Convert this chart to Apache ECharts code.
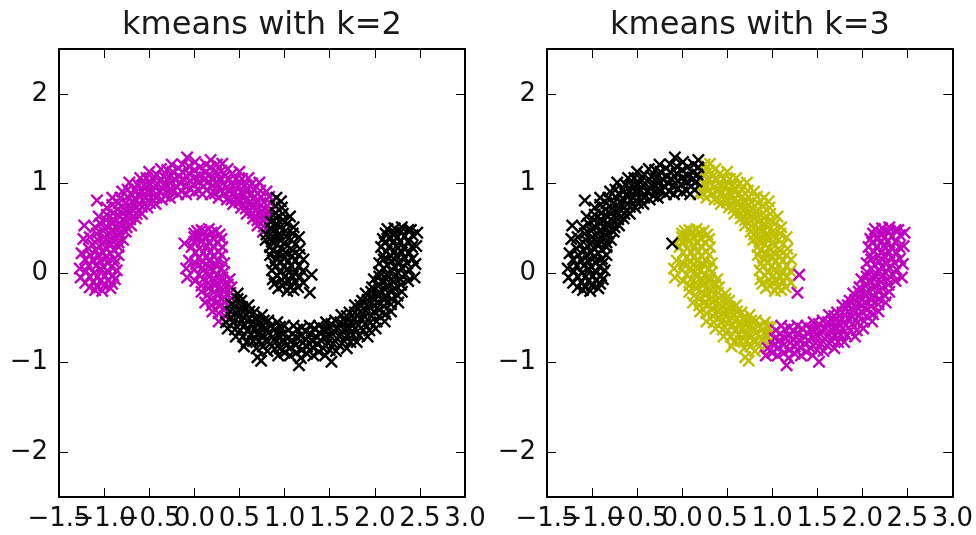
<!DOCTYPE html>
<html>
<head>
<meta charset="utf-8">
<script src="https://cdn.jsdelivr.net/npm/echarts@6.0.0/dist/echarts.min.js"></script>
<style>
  html, body { margin: 0; padding: 0; background: #ffffff; }
  #chart { width: 976px; height: 535px; }
</style>
</head>
<body>
<div id="chart"></div>
<script>
// Two-moons sample, split into arcs so each arc keeps one cluster colour per panel.

// Upper moon, left part (k=2: cluster m, k=3: cluster k)
const upperLeftArc = [
  [0.14,0.93],[0.16,1.02],[0.17,1.10],[0.18,1.18],
  [0.09,0.88],[0.10,0.97],[0.11,1.04],[0.12,1.12],[0.13,1.21],
  [0.05,0.92],[0.05,1.01],[0.06,1.09],[0.06,1.18],
  [0.00,0.90],[-0.01,0.99],[0.01,1.07],[0.00,1.15],[0.01,1.24],
  [-0.05,0.94],[-0.05,1.03],[-0.06,1.11],[-0.06,1.19],
  [-0.09,0.88],[-0.10,0.97],[-0.11,1.04],[-0.12,1.12],[-0.13,1.21],
  [-0.14,0.91],[-0.15,1.00],[-0.17,1.08],[-0.18,1.17],
  [-0.18,0.88],[-0.20,0.97],[-0.22,1.05],[-0.24,1.13],[-0.25,1.21],
  [-0.24,0.91],[-0.26,1.00],[-0.28,1.07],[-0.30,1.15],
  [-0.27,0.84],[-0.29,0.92],[-0.32,1.00],[-0.34,1.08],[-0.37,1.16],
  [-0.32,0.86],[-0.35,0.94],[-0.38,1.02],[-0.42,1.10],
  [-0.36,0.82],[-0.39,0.91],[-0.43,0.98],[-0.46,1.05],[-0.50,1.13],
  [-0.42,0.84],[-0.46,0.92],[-0.49,0.99],[-0.53,1.06],
  [-0.43,0.77],[-0.48,0.84],[-0.52,0.91],[-0.56,0.98],[-0.60,1.06],
  [-0.49,0.78],[-0.54,0.85],[-0.58,0.92],[-0.63,0.99],
  [-0.52,0.73],[-0.57,0.81],[-0.62,0.87],[-0.66,0.93],[-0.72,1.01],
  [-0.58,0.74],[-0.64,0.81],[-0.69,0.87],[-0.74,0.93],
  [-0.58,0.66],[-0.64,0.73],[-0.69,0.79],[-0.74,0.85],[-0.80,0.91],
  [-0.64,0.66],[-0.70,0.72],[-0.76,0.78],[-0.82,0.84],
  [-0.65,0.61],[-0.72,0.67],[-0.78,0.72],[-0.84,0.78],[-0.91,0.84],
  [-0.71,0.60],[-0.79,0.66],[-0.85,0.71],[-0.91,0.76],
  [-0.70,0.53],[-0.77,0.58],[-0.83,0.63],[-0.90,0.67],[-0.97,0.73],
  [-0.75,0.51],[-0.83,0.56],[-0.90,0.60],[-0.97,0.65],
  [-0.76,0.46],[-0.84,0.50],[-0.91,0.55],[-0.98,0.59],[-1.06,0.63],
  [-0.82,0.44],[-0.90,0.48],[-0.97,0.52],[-1.04,0.55],
  [-0.79,0.37],[-0.87,0.41],[-0.94,0.44],[-1.01,0.47],[-1.10,0.51],
  [-0.84,0.34],[-0.92,0.38],[-1.00,0.40],[-1.08,0.44],
  [-0.84,0.29],[-0.92,0.32],[-1.00,0.34],[-1.07,0.37],[-1.16,0.40],
  [-0.89,0.26],[-0.98,0.28],[-1.05,0.30],[-1.13,0.32],
  [-0.84,0.20],[-0.93,0.22],[-1.01,0.23],[-1.09,0.25],[-1.17,0.27],
  [-0.89,0.16],[-0.98,0.18],[-1.06,0.19],[-1.15,0.20],
  [-0.88,0.11],[-0.96,0.12],[-1.04,0.13],[-1.12,0.14],[-1.21,0.15],
  [-0.92,0.07],[-1.01,0.07],[-1.09,0.08],[-1.17,0.08],
  [-0.86,0.03],[-0.95,0.01],[-1.03,0.04],[-1.11,0.00],[-1.20,0.02],
  [-0.90,-0.03],[-0.99,-0.03],[-1.07,-0.04],[-1.16,-0.04],
  [-0.88,-0.07],[-0.96,-0.08],[-1.04,-0.09],[-1.12,-0.10],[-1.21,-0.11],
  [-0.91,-0.12],[-1.00,-0.14],[-1.08,-0.15],[-1.16,-0.16],
  [-0.93,-0.17],[-1.02,-0.20],[-1.10,-0.19],
  [-1.08,0.81],[-1.22,0.53],[-1.27,0.05],[-1.26,-0.05],[-1.25,0.22],[-1.23,0.38],
  [-0.08,1.29],[0.18,1.26]
];

// Upper moon, top-right part (k=2: m, k=3: y)
const upperMidArc = [
  [0.18,0.88],[0.20,0.97],[0.22,1.05],[0.24,1.13],[0.25,1.21],
  [0.23,0.89],[0.26,0.98],[0.28,1.05],[0.30,1.14],
  [0.27,0.84],[0.29,0.92],[0.32,1.00],[0.34,1.08],[0.37,1.16],
  [0.33,0.88],[0.36,0.96],[0.39,1.04],[0.42,1.11],
  [0.36,0.82],[0.39,0.91],[0.43,0.98],[0.46,1.05],[0.50,1.13],
  [0.41,0.82],[0.45,0.90],[0.49,0.97],[0.53,1.05],
  [0.43,0.77],[0.48,0.84],[0.52,0.91],[0.56,0.98],[0.60,1.06],
  [0.50,0.79],[0.55,0.87],[0.59,0.93],[0.64,1.00],
  [0.52,0.73],[0.57,0.81],[0.62,0.87],[0.66,0.93],[0.72,1.01],
  [0.57,0.72],[0.62,0.79],[0.67,0.85],[0.73,0.92],
  [0.58,0.66],[0.64,0.73],[0.69,0.79],[0.74,0.85],[0.80,0.91],
  [0.65,0.67],[0.71,0.73],[0.77,0.79],[0.83,0.85],
  [0.65,0.61],[0.72,0.67],[0.78,0.72],[0.84,0.78],
  [0.70,0.59],[0.77,0.64],[0.83,0.69],
  [0.70,0.53],[0.77,0.58],[0.83,0.63],
  [0.77,0.52],[0.76,0.46],[0.31,1.22]
];

// Upper moon, right end (k=2: k, k=3: y)
const upperRightArc = [
  [0.91,0.84],[0.96,0.80],[0.90,0.75],
  [0.90,0.67],[0.97,0.73],
  [0.85,0.57],[0.91,0.61],[0.98,0.66],
  [0.84,0.50],[0.91,0.55],[0.98,0.59],[1.06,0.63],
  [0.80,0.43],[0.88,0.47],[0.95,0.51],[1.03,0.55],
  [0.79,0.37],[0.87,0.41],[0.94,0.44],[1.01,0.47],[1.10,0.51],
  [0.86,0.35],[0.94,0.38],[1.02,0.41],[1.09,0.44],
  [0.84,0.29],[0.92,0.32],[1.00,0.34],[1.07,0.37],[1.16,0.40],
  [0.87,0.25],[0.96,0.28],[1.03,0.30],[1.12,0.32],
  [0.84,0.20],[0.93,0.22],[1.01,0.23],[1.09,0.25],[1.17,0.27],
  [0.91,0.16],[1.00,0.18],[1.08,0.19],[1.16,0.20],
  [0.88,0.11],[0.96,0.12],[1.04,0.13],[1.12,0.14],[1.21,0.15],
  [0.90,0.07],[0.99,0.07],[1.07,0.08],[1.16,0.08],
  [0.86,0.03],[0.95,0.01],[1.03,0.04],[1.11,0.00],[1.20,0.02],
  [0.92,-0.03],[1.01,-0.03],[1.09,-0.04],[1.17,-0.04],
  [0.87,-0.07],[0.97,-0.08],[1.04,-0.09],[1.12,-0.10],[1.21,-0.11],
  [0.89,-0.12],[0.98,-0.14],[1.06,-0.15],[1.15,-0.16],
  [0.93,-0.17],[1.03,-0.20],[1.10,-0.19]
];

// Upper moon, two loose points (k=2: k, k=3: m)
const upperStray = [[1.30,-0.02],[1.28,-0.22]];

// Lower moon, left end (k=2: m, k=3: y)
const lowerLeftArc = [
  [0.24,0.47],[0.16,0.49],[0.08,0.48],[0.00,0.44],
  [0.28,0.43],[0.19,0.45],[0.11,0.46],[0.03,0.47],
  [0.30,0.38],[0.21,0.39],[0.13,0.40],[0.05,0.41],[0.00,0.40],
  [0.25,0.34],[0.16,0.34],[0.08,0.35],[0.00,0.35],
  [0.31,0.29],[0.22,0.29],[0.14,0.30],[0.06,0.28],[-0.03,0.29],
  [0.27,0.24],[0.18,0.24],[0.10,0.23],[0.01,0.23],
  [0.30,0.20],[0.21,0.19],[0.13,0.18],[0.05,0.17],[-0.06,0.14],
  [0.26,0.14],[0.17,0.13],[0.09,0.12],[0.02,0.10],
  [0.33,0.11],[0.24,0.09],[0.16,0.07],[0.09,0.06],[0.00,0.04],
  [0.30,0.05],[0.21,0.03],[0.14,0.01],[0.05,-0.02],[-0.09,0.05],
  [0.33,0.01],[0.25,-0.02],[0.17,-0.04],[0.10,-0.07],[0.01,-0.09],[-0.08,-0.05],
  [0.31,-0.05],[0.23,-0.08],[0.15,-0.11],[0.08,-0.14],
  [0.39,-0.07],[0.30,-0.10],[0.23,-0.14],[0.16,-0.17],[0.08,-0.21],
  [0.37,-0.13],[0.29,-0.17],[0.22,-0.21],[0.14,-0.25],
  [0.41,-0.16],[0.33,-0.21],[0.26,-0.25],[0.19,-0.29],[0.12,-0.33],
  [0.40,-0.22],[0.33,-0.27],[0.26,-0.32],[0.19,-0.36],
  [0.41,-0.28],[0.34,-0.33],[0.28,-0.37],[0.20,-0.43],
  [0.34,-0.40],[0.27,-0.45],
  [0.34,-0.48],[0.27,-0.54]
];

// Lower moon, one loose point (k=2: m, k=3: k)
const lowerStray = [[-0.11,0.33]];

// Lower moon, lower-left stretch (k=2: k, k=3: y)
const lowerMidArc = [
  [0.48,-0.23],
  [0.48,-0.29],[0.41,-0.35],
  [0.52,-0.31],[0.45,-0.37],[0.40,-0.43],
  [0.53,-0.38],[0.46,-0.44],[0.41,-0.50],[0.35,-0.55],
  [0.60,-0.36],[0.54,-0.43],[0.49,-0.49],[0.43,-0.55],[0.37,-0.62],
  [0.61,-0.43],[0.55,-0.50],[0.50,-0.56],[0.45,-0.63],
  [0.66,-0.44],[0.61,-0.51],[0.56,-0.58],[0.51,-0.64],[0.46,-0.71],
  [0.68,-0.50],[0.63,-0.57],[0.59,-0.64],[0.54,-0.71],
  [0.75,-0.47],[0.71,-0.55],[0.67,-0.62],[0.63,-0.69],[0.58,-0.77],
  [0.77,-0.53],[0.73,-0.61],[0.70,-0.68],[0.65,-0.76],
  [0.82,-0.53],[0.79,-0.61],[0.76,-0.69],[0.72,-0.76],[0.69,-0.84],
  [0.85,-0.59],[0.82,-0.67],[0.79,-0.75],[0.76,-0.82],
  [0.92,-0.55],[0.89,-0.63],[0.87,-0.71],[0.84,-0.79],[0.81,-0.87],
  [0.95,-0.60],[0.93,-0.69],[0.91,-0.76],[0.89,-0.85],
  [1.00,-0.59],[0.98,-0.68],[0.97,-0.76],
  [0.74,-0.98],[0.70,-0.94],[0.55,-0.82]
];

// Lower moon, bottom and right end (k=2: k, k=3: m)
const lowerRightArc = [
  [0.95,-0.84],[0.93,-0.92],
  [1.04,-0.64],[1.03,-0.73],[1.02,-0.81],[1.00,-0.89],
  [1.10,-0.59],[1.09,-0.68],[1.08,-0.75],[1.07,-0.83],[1.06,-0.92],
  [1.14,-0.63],[1.14,-0.72],[1.13,-0.80],[1.13,-0.89],
  [1.19,-0.61],[1.18,-0.70],[1.20,-0.78],[1.19,-0.86],[1.18,-0.95],
  [1.24,-0.65],[1.24,-0.74],[1.25,-0.82],[1.25,-0.90],
  [1.28,-0.59],[1.29,-0.68],[1.30,-0.75],[1.31,-0.83],[1.32,-0.92],
  [1.33,-0.62],[1.35,-0.71],[1.36,-0.79],[1.38,-0.88],
  [1.38,-0.59],[1.40,-0.68],[1.41,-0.76],[1.43,-0.84],[1.45,-0.92],
  [1.43,-0.62],[1.46,-0.71],[1.48,-0.78],[1.50,-0.86],
  [1.46,-0.55],[1.49,-0.63],[1.51,-0.71],[1.54,-0.79],[1.57,-0.87],
  [1.52,-0.57],[1.55,-0.65],[1.58,-0.73],[1.61,-0.81],
  [1.56,-0.53],[1.59,-0.61],[1.63,-0.69],[1.66,-0.76],[1.69,-0.84],
  [1.62,-0.55],[1.66,-0.63],[1.69,-0.70],[1.73,-0.77],
  [1.63,-0.47],[1.68,-0.55],[1.72,-0.62],[1.76,-0.69],[1.80,-0.77],
  [1.69,-0.48],[1.74,-0.56],[1.78,-0.62],[1.83,-0.70],
  [1.72,-0.44],[1.77,-0.51],[1.82,-0.58],[1.87,-0.64],[1.92,-0.71],
  [1.78,-0.44],[1.84,-0.51],[1.89,-0.57],[1.94,-0.64],
  [1.78,-0.36],[1.84,-0.43],[1.89,-0.49],[1.95,-0.55],[2.01,-0.62],
  [1.84,-0.36],[1.90,-0.42],[1.96,-0.48],[2.02,-0.54],
  [1.86,-0.31],[1.93,-0.37],[1.99,-0.43],[2.05,-0.48],[2.11,-0.54],
  [1.92,-0.30],[1.99,-0.36],[2.05,-0.41],[2.12,-0.46],
  [1.90,-0.23],[1.98,-0.28],[2.04,-0.33],[2.10,-0.37],[2.18,-0.43],
  [1.96,-0.21],[2.04,-0.26],[2.10,-0.30],[2.18,-0.35],
  [1.97,-0.16],[2.05,-0.21],[2.12,-0.25],[2.19,-0.29],[2.26,-0.33],
  [2.03,-0.14],[2.11,-0.18],[2.18,-0.21],[2.25,-0.25],
  [1.99,-0.07],[2.08,-0.10],[2.15,-0.14],[2.22,-0.17],[2.30,-0.21],
  [2.05,-0.04],[2.13,-0.07],[2.21,-0.10],[2.29,-0.13],
  [2.05,0.01],[2.13,-0.02],[2.21,-0.04],[2.28,-0.07],[2.37,-0.09],
  [2.10,0.05],[2.19,0.02],[2.26,0.00],[2.34,-0.02],
  [2.05,0.11],[2.14,0.09],[2.22,0.07],[2.30,0.06],[2.38,0.04],
  [2.10,0.15],[2.19,0.13],[2.27,0.12],[2.36,0.11],
  [2.09,0.20],[2.18,0.19],[2.25,0.18],[2.33,0.17],[2.42,0.16],
  [2.13,0.24],[2.22,0.24],[2.30,0.23],[2.38,0.23],
  [2.07,0.29],[2.16,0.29],[2.24,0.30],[2.32,0.28],[2.41,0.29],
  [2.11,0.34],[2.20,0.34],[2.28,0.35],[2.37,0.35],
  [2.09,0.38],[2.18,0.39],[2.25,0.40],[2.33,0.41],[2.42,0.42],
  [2.12,0.44],[2.21,0.45],[2.29,0.46],[2.37,0.48],
  [2.14,0.49],[2.22,0.50],[2.30,0.51],[2.40,0.48],
  [2.47,0.45],[2.46,0.30],[2.45,0.10],[2.44,-0.05],
  [1.16,-1.03],[1.52,-0.99]
];

// Tick positions; x labels are split in two alternating rows so none get dropped
const xLabelsA = [-1.5, -0.5, 0.5, 1.5, 2.5];
const xLabelsB = [-1.0, 0.0, 1.0, 2.0, 3.0];
const yTicks = [-2, -1, 0, 1, 2];
const titles = ['kmeans with k=2', 'kmeans with k=3'];

const MAGENTA = '#bf00bf';
const OLIVE = '#bfbf00';
const BLACK = '#000000';
const FONT = 'DejaVu Sans';
// matplotlib-style "x" marker as a filled outline
const X_MARK = 'path://M0,1.3L1.3,0L5,3.7L8.7,0L10,1.3L6.3,5L10,8.7L8.7,10L5,6.3L1.3,10L0,8.7L3.7,5Z';

const panels = [
  { title: titles[0], left: 59, groups: [
    { color: MAGENTA, data: [...upperLeftArc, ...upperMidArc, ...lowerLeftArc, ...lowerStray] },
    { color: BLACK, data: [...upperRightArc, ...upperStray, ...lowerMidArc, ...lowerRightArc] }
  ]},
  { title: titles[1], left: 547, groups: [
    { color: OLIVE, data: [...upperMidArc, ...upperRightArc, ...lowerLeftArc, ...lowerMidArc] },
    { color: MAGENTA, data: [...upperStray, ...lowerRightArc] },
    { color: BLACK, data: [...upperLeftArc, ...lowerStray] }
  ]}
];

const PLOT_W = 406, PLOT_H = 448, PLOT_TOP = 49;
const minus = (s) => s.replace('-', '\u2212');

const line = { show: true, onZero: false, lineStyle: { color: '#000', width: 2 } };
const noLine = { show: false, onZero: false };
const tick = { show: true, inside: true, length: 9, lineStyle: { color: '#000', width: 1 } };
const labelStyle = { fontFamily: FONT, fontSize: 26, color: '#111' };

const grid = [], xAxis = [], yAxis = [], series = [], graphic = [];
panels.forEach((p, i) => {
  grid.push({ left: p.left, top: PLOT_TOP, width: PLOT_W, height: PLOT_H, containLabel: false });
  const xBase = { type: 'value', gridIndex: i, min: -1.5, max: 3.0, interval: 0.5,
    splitLine: { show: false } };
  const xLabel = (vals) => Object.assign({ show: true, margin: 9, customValues: vals,
    showMinLabel: true, showMaxLabel: true, formatter: (v) => minus(v.toFixed(1)) }, labelStyle);
  const x0 = xAxis.length;
  // bottom frame edge, ticks and the first label row
  xAxis.push(Object.assign({}, xBase, { position: 'bottom', axisLine: line, axisTick: tick,
    axisLabel: xLabel(xLabelsA) }));
  // second label row on the same baseline
  xAxis.push(Object.assign({}, xBase, { position: 'bottom', offset: 0, axisLine: noLine,
    axisTick: { show: false }, axisLabel: xLabel(xLabelsB) }));
  // top frame edge with ticks
  xAxis.push(Object.assign({}, xBase, { position: 'top', axisLine: line, axisTick: tick,
    axisLabel: { show: false } }));
  const yBase = { type: 'value', gridIndex: i, min: -2.5, max: 2.5,
    axisLine: line, splitLine: { show: false },
    axisTick: Object.assign({ customValues: yTicks }, tick) };
  const y0 = yAxis.length;
  yAxis.push(Object.assign({}, yBase, { position: 'left',
    axisLabel: Object.assign({ show: true, margin: 11, customValues: yTicks,
      formatter: (v) => minus(String(v)) }, labelStyle) }));
  yAxis.push(Object.assign({}, yBase, { position: 'right', axisLabel: { show: false } }));
  p.groups.forEach((g) => {
    series.push({ type: 'scatter', xAxisIndex: x0, yAxisIndex: y0,
      data: g.data, symbol: X_MARK, symbolSize: 13,
      itemStyle: { color: g.color, opacity: 1 }, silent: true });
  });
  graphic.push({ type: 'text', x: p.left + PLOT_W / 2, y: 26,
    style: { text: p.title, align: 'center', verticalAlign: 'middle',
      fontFamily: FONT, fontSize: 32, fill: '#1a1a1a' } });
});

const chart = echarts.init(document.getElementById('chart'), null, { renderer: 'canvas' });
chart.setOption({ animation: false, backgroundColor: '#ffffff', grid, xAxis, yAxis, series, graphic });
</script>
</body>
</html>
